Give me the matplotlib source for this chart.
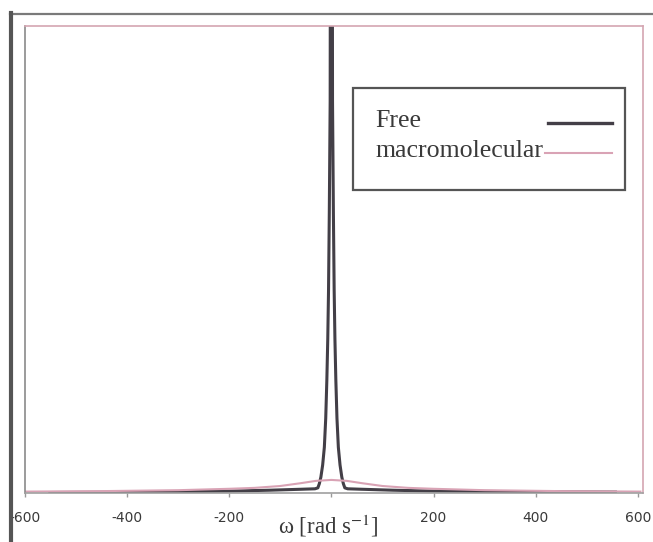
import matplotlib
matplotlib.use("Agg")
import matplotlib.pyplot as plt
from matplotlib.lines import Line2D
from matplotlib.patches import Rectangle

plt.rcParams["mathtext.fontset"] = "stix"

# frequency offset (rad/s) and lineshape of the free pool
free_w = [-551, -350, -200, -120, -60, -32, -26.4, -23.5, -20.5, -17, -13.7,
          -11, -8.8, -7, -5.5, -4, -2.3, -1.5, 0,
          1.5, 2.3, 4, 5.5, 7, 8.8, 11, 13.7, 17, 20.5, 23.5, 26.4, 32,
          60, 120, 200, 350, 556]
free_g = [0.001, 0.002, 0.004, 0.006, 0.008, 0.009, 0.011, 0.02, 0.034, 0.06, 0.098,
          0.16, 0.242, 0.33, 0.435, 0.6, 0.84, 1.6, 3.0,
          1.6, 0.84, 0.6, 0.435, 0.33, 0.242, 0.16, 0.098, 0.06, 0.034, 0.02, 0.011, 0.009,
          0.008, 0.006, 0.004, 0.003, 0.002]

# broad lineshape of the macromolecular pool
macro_w = [-600, -450, -300, -200, -150, -100, -60, -30, 0,
           30, 60, 100, 150, 200, 300, 450, 605]
macro_g = [0.003, 0.004, 0.006, 0.009, 0.011, 0.015, 0.021, 0.026, 0.028,
           0.026, 0.021, 0.015, 0.011, 0.009, 0.006, 0.004, 0.003]

tick_vals = [-600, -400, -200, 0, 200, 400, 600]
tick_text = ["-600", "-400", "-200", "", "200", "400", "600"]

free_color = "#433f47"
macro_color = "#d9a3b5"
text_color = "#3a3a3a"

fig = plt.figure(figsize=(6.53, 5.42), dpi=100)
ax = fig.add_axes([24.8 / 653, 1 - 493 / 542, 618.2 / 653, 467 / 542])

ax.plot(free_w, free_g, color=free_color, lw=2.2, solid_joinstyle="round")
ax.plot(macro_w, macro_g, color=macro_color, lw=1.5)

ax.set_xlim(-600, 610)
ax.set_ylim(0, 1)
ax.set_yticks([])
ax.set_xticks(tick_vals)
ax.set_xticklabels(tick_text, fontsize=10, color=text_color, family="DejaVu Sans")
ax.tick_params(axis="x", direction="out", length=3, width=1, color="#999999", pad=10)

ax.spines["left"].set_color("#8a8a8a")
ax.spines["bottom"].set_color("#a0a0a0")
ax.spines["top"].set_color("#d4a6b2")
ax.spines["right"].set_color("#d4a6b2")
for side in ax.spines:
    ax.spines[side].set_linewidth(1.2)

ax.set_xlabel("ω [rad s$^{\\mathrm{-1}}$]", fontsize=16.5, color=text_color,
              family="Liberation Serif")
ax.xaxis.set_label_coords(0.49, -0.043)

# legend box with handles on the right of the labels
ax.add_patch(Rectangle((0.531, 0.649), 0.44, 0.218, transform=ax.transAxes,
                       facecolor="white", edgecolor="#555555", lw=1.6, zorder=5))
ax.text(0.567, 0.784, "Free", transform=ax.transAxes, fontsize=18.6,
        family="Liberation Serif", color=text_color, va="baseline", zorder=6)
ax.text(0.567, 0.719, "macromolecular", transform=ax.transAxes, fontsize=18.6,
        family="Liberation Serif", color=text_color, va="baseline", zorder=6)
ax.plot([0.847, 0.950], [0.792, 0.792], transform=ax.transAxes,
        color=free_color, lw=2.4, zorder=6, clip_on=False)
ax.plot([0.842, 0.950], [0.728, 0.728], transform=ax.transAxes,
        color=macro_color, lw=1.5, zorder=6, clip_on=False)

# outer chart border
fig.add_artist(Line2D([10 / 653, 1], [1 - 14 / 542, 1 - 14 / 542],
                      color="#7a7a7a", lw=1.6, zorder=10))
fig.add_artist(Line2D([11 / 653, 11 / 653], [0, 1 - 13 / 542],
                      color="#555555", lw=3.0, zorder=10))

fig.savefig("out.png", dpi=100)
